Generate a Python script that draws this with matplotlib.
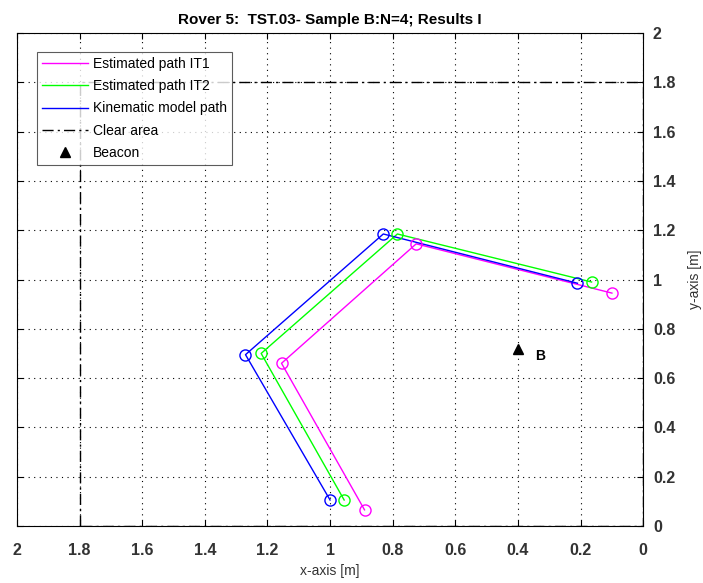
import numpy as np
import matplotlib.pyplot as plt

plt.rcParams['font.family'] = ['Liberation Sans', 'DejaVu Sans']

# paths (x, y in metres)
it1_x = [0.89, 1.155, 0.725, 0.10]
it1_y = [0.065, 0.66, 1.145, 0.945]
it2_x = [0.955, 1.22, 0.785, 0.165]
it2_y = [0.105, 0.70, 1.185, 0.99]
kin_x = [1.0, 1.27, 0.83, 0.21]
kin_y = [0.105, 0.695, 1.185, 0.985]

# clear area rectangle corners
clear_x = [1.8, 1.8, 0.0, 0.0, 1.8]
clear_y = [0.0, 1.8, 1.8, 0.0, 0.0]

beacon_x, beacon_y = 0.4, 0.72
ticks = np.round(np.arange(0, 2.01, 0.2), 1)
tick_labels = ['0', '0.2', '0.4', '0.6', '0.8', '1', '1.2', '1.4', '1.6', '1.8', '2']

fig = plt.figure(figsize=(7.03, 5.83), dpi=100)
ax = fig.add_axes([0.024, 0.098, 0.891, 0.845])

ax.plot(it1_x, it1_y, color='#ff00ff', lw=1.0, label='Estimated path IT1')
ax.plot(it2_x, it2_y, color='#00ff00', lw=1.0, label='Estimated path IT2')
ax.plot(kin_x, kin_y, color='#0000ff', lw=1.0, label='Kinematic model path')
ax.plot(clear_x, clear_y, color='k', lw=1.0, ls=(0, (8, 3, 1.5, 3)), label='Clear area')
ax.plot(beacon_x, beacon_y, '^', color='k', ms=7, ls='none', label='Beacon')

ax.plot(it1_x, it1_y, 'o', mfc='none', mec='#ff00ff', ms=8, mew=1.0)
ax.plot(it2_x, it2_y, 'o', mfc='none', mec='#00ff00', ms=8, mew=1.0)
ax.plot(kin_x, kin_y, 'o', mfc='none', mec='#0000ff', ms=8, mew=1.0)
ax.text(beacon_x - 0.055, beacon_y - 0.03, 'B', fontsize=10, fontweight='bold', va='center')

ax.set_xlim(2, 0)
ax.set_ylim(0, 2)
ax.set_xticks(ticks)
ax.set_xticklabels(tick_labels, fontsize=11.5, fontweight='bold', color='#333333')
ax.set_yticks(ticks)
ax.set_yticklabels(tick_labels, fontsize=11.5, fontweight='bold', color='#333333')
ax.yaxis.tick_right()
ax.yaxis.set_label_position('right')
ax.tick_params(direction='in', length=4, top=True, right=True, left=True, bottom=True)
ax.tick_params(axis='x', pad=12)
ax.tick_params(axis='y', pad=7)
ax.grid(True, color='k', ls=(0, (1, 4)), lw=0.8)

ax.set_xlabel('x-axis [m]', fontsize=10, color='#333333', labelpad=5)
ax.set_ylabel('y-axis [m]', fontsize=10, color='#333333', labelpad=9)
ax.set_title('Rover 5:  TST.03- Sample B:N=4; Results I', fontsize=11, fontweight='bold', pad=7)

leg = ax.legend(loc='upper left', bbox_to_anchor=(0.032, 0.962), fontsize=10, frameon=True,
                fancybox=False, edgecolor='#333333', handlelength=3.3, borderpad=0.35,
                labelspacing=0.6, handletextpad=0.4, borderaxespad=0)
leg.get_frame().set_linewidth(0.8)

fig.savefig('out.png', dpi=100)
